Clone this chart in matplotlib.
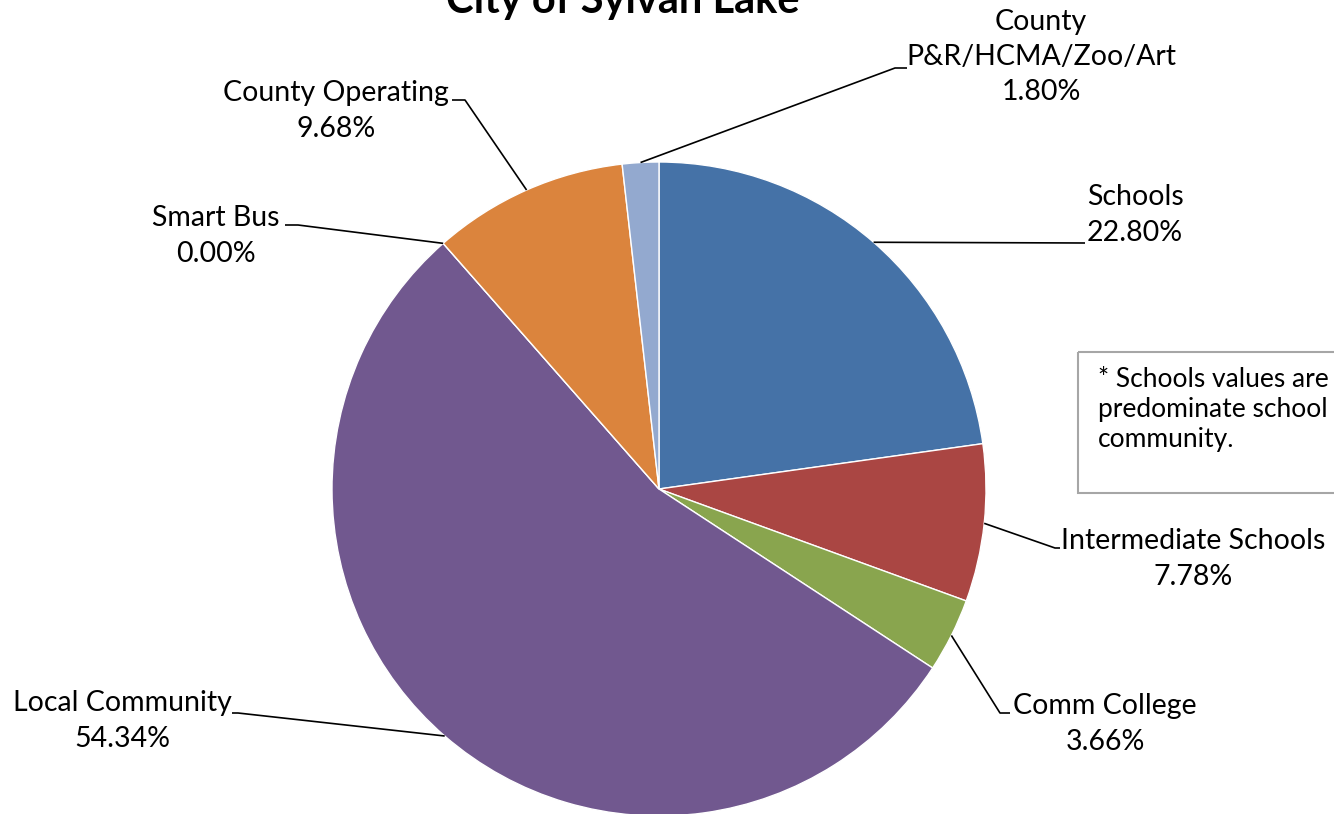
import matplotlib.pyplot as plt
import numpy as np

plt.rcParams['font.family'] = ['Lato', 'DejaVu Sans']

categories = ['Schools', 'Intermediate Schools', 'Comm College', 'Local Community',
              'Smart Bus', 'County Operating', 'County\nP&R/HCMA/Zoo/Art']
shares = [22.80, 7.78, 3.66, 54.34, 0.00, 9.68, 1.80]
colors = ['#4572A7', '#AA4643', '#89A54E', '#71588F', '#4198AF', '#DB843D', '#93A9CF']

# label text centre, and where the leader line meets the label (pixel space)
label_pos = [(1135, 215), (1193, 559), (1105, 724), (122, 721),
             (216, 236), (336, 111), (1041, 57)]
leader_end = [(1085, 243, 1085), (1055, 548, 1060), (1000, 713, 1010), (238, 713, 232),
              (298, 225, 285), (465, 100, 452), (895, 68, 907)]

W, H = 1334, 814
cx, cy, R = 659, 489, 327

fig = plt.figure(figsize=(W / 100, H / 100), dpi=100)
ax = fig.add_axes([0, 0, 1, 1])

wedges, _ = ax.pie(shares, colors=colors, startangle=-90, counterclock=True,
                   center=(cx, cy), radius=R,
                   wedgeprops=dict(edgecolor='white', linewidth=1.0))
ax.set_xlim(0, W)
ax.set_ylim(H, 0)
ax.set_aspect('equal')
ax.axis('off')

for w, name, val, (tx, ty), (ex, ey, hx) in zip(wedges, categories, shares, label_pos, leader_end):
    mid = np.deg2rad((w.theta1 + w.theta2) / 2)
    px = cx + R * np.cos(mid)
    py = cy + R * np.sin(mid)
    ax.plot([px, ex, hx], [py, ey, ey], color='black', lw=1.2, solid_capstyle='butt')
    ax.text(tx, ty, '%s\n%.2f%%' % (name, val), ha='center', va='center',
            fontsize=20.5, linespacing=1.45, color='black')

ax.text(623, 13, 'City of Sylvan Lake', ha='center', va='baseline',
        fontsize=30, fontweight='bold')

# note box on the right
ax.add_patch(plt.Rectangle((1078, 352), 300, 141, fill=False,
                           edgecolor='#A6A6A6', lw=1.5))
ax.text(1098, 367, '* Schools values are\npredominate school\ncommunity.',
        ha='left', va='top', fontsize=19, linespacing=1.25)

fig.savefig('out.png', dpi=100)
